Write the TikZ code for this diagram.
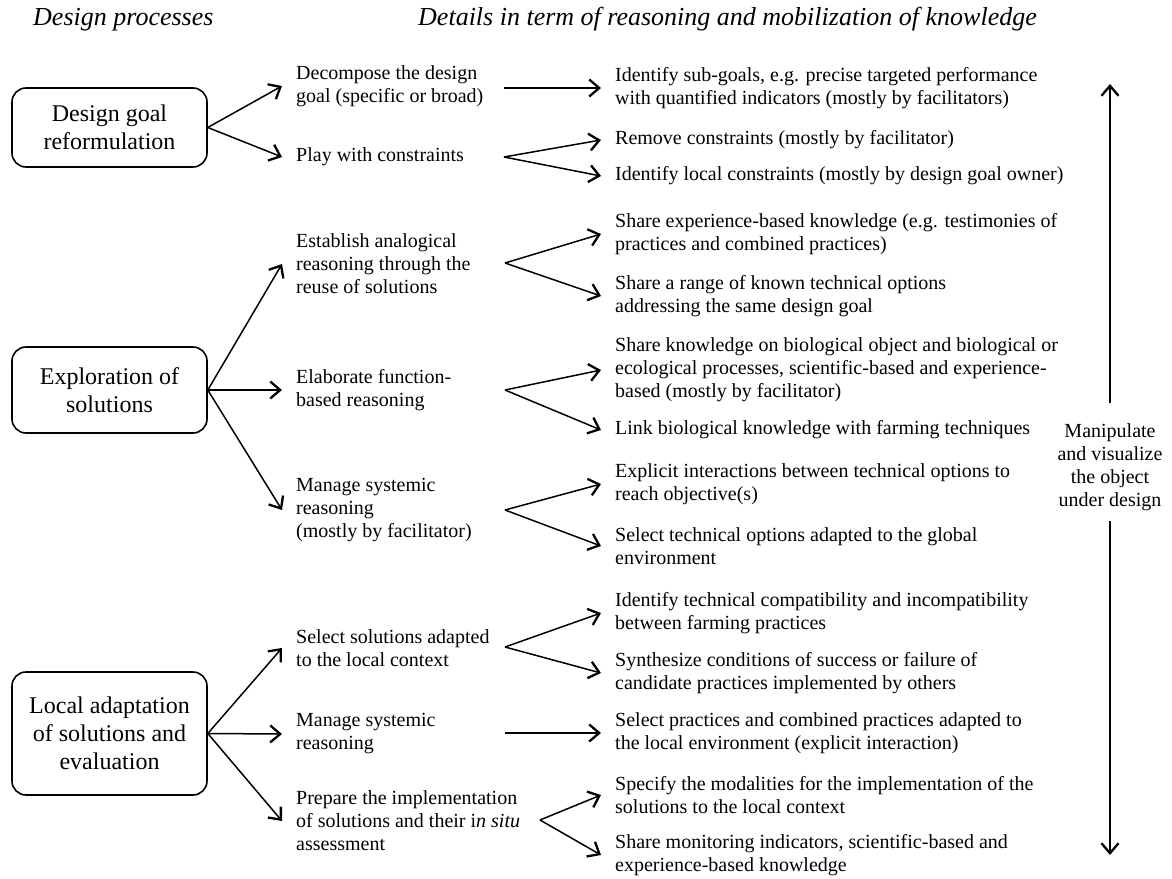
\documentclass[tikz,border=0pt]{standalone}
\usepackage{fontspec}
\setmainfont{Liberation Serif}
\usetikzlibrary{arrows.meta}
\begin{document}
\begin{tikzpicture}[x=1pt,y=-1pt,
  conn/.style={line width=1.5pt,-{Straight Barb[length=10pt,width=17pt,line width=2.3pt]}},
  procbox/.style={draw,line width=1.6pt,rounded corners=14pt,minimum width=195pt,align=center,font=\fontsize{24}{28}\selectfont,inner sep=0pt},
  lvtwo/.style={anchor=west,align=left,inner sep=0pt,font=\fontsize{20}{23}\selectfont},
  lvthree/.style={anchor=west,align=left,inner sep=0pt,font=\fontsize{20}{23}\selectfont},
  heading/.style={anchor=base west,inner sep=0pt,font=\fontsize{26}{30}\selectfont\itshape}]
\useasboundingbox (0,0) rectangle (1172,878);

% headings
\node[heading] (h1) at (33,25) {Design processes};
\node[heading] (h2) at (418,25) {Details in term of reasoning and mobilization of knowledge};

% process boxes
\node[procbox,minimum height=79pt] (b1) at (109.5,127.5) {Design goal\\reformulation};
\node[procbox,minimum height=86pt] (b2) at (109.5,390) {Exploration of\\solutions};
\node[procbox,minimum height=123pt] (b3) at (109.5,733.5) {Local adaptation\\of solutions and\\evaluation};

% level 2
\node[lvtwo] (dec) at (296,86) {Decompose the design\\goal (specific or broad)};
\node[lvtwo] (play) at (296,157) {Play with constraints};
\node[lvtwo] (est) at (296,264) {Establish analogical\\reasoning through the\\reuse of solutions};
\node[lvtwo] (elab) at (296,390) {Elaborate function-\\based reasoning};
\node[lvtwo] (mana) at (296,510) {Manage systemic\\reasoning\\(mostly by facilitator)};
\node[lvtwo] (sel) at (296,648) {Select solutions adapted\\to the local context};
\node[lvtwo] (manb) at (296,734) {Manage systemic\\reasoning};
\node[lvtwo] (prep) at (296,821) {Prepare the implementation\\of solutions and their i\textit{n situ}\\assessment};

% level 3
\node[lvthree] (sub) at (615,88) {Identify sub-goals, e.g. precise targeted performance\\with quantified indicators (mostly by facilitators)};
\node[lvthree] (rem) at (615,140) {Remove constraints (mostly by facilitator)};
\node[lvthree] (loc) at (615,176) {Identify local constraints (mostly by design goal owner)};
\node[lvthree] (sha) at (615,234) {Share experience-based knowledge (e.g. testimonies of\\practices and combined practices)};
\node[lvthree] (shb) at (615,296) {Share a range of known technical options\\addressing the same design goal};
\node[lvthree] (shc) at (615,370) {Share knowledge on biological object and biological or\\ecological processes, scientific-based and experience-\\based (mostly by facilitator)};
\node[lvthree] (link) at (615,430) {Link biological knowledge with farming techniques};
\node[lvthree] (expl) at (615,484) {Explicit interactions between technical options to\\reach objective(s)};
\node[lvthree] (selt) at (615,546) {Select technical options adapted to the global\\environment};
\node[lvthree] (idt) at (615,613) {Identify technical compatibility and incompatibility\\between farming practices};
\node[lvthree] (syn) at (615,673) {Synthesize conditions of success or failure of\\candidate practices implemented by others};
\node[lvthree] (selp) at (615,733) {Select practices and combined practices adapted to\\the local environment (explicit interaction)};
\node[lvthree] (spec) at (615,795) {Specify the modalities for the implementation of the\\solutions to the local context};
\node[lvthree] (shm) at (615,855) {Share monitoring indicators, scientific-based and\\experience-based knowledge};

% right side
\node[align=center,inner xsep=0pt,inner ysep=10pt,font=\fontsize{20}{23}\selectfont] (mv) at (1110,467) {Manipulate\\and visualize\\the object\\under design};
\coordinate (vtop) at (1110,84);
\coordinate (vbot) at (1110,855);
\draw[conn] ([yshift=10pt]mv.north) -- (vtop);
\draw[conn] (mv.south) -- (vbot);

% box -> level 2
\draw[conn] (b1.east) -- ([xshift=-14pt]dec.west);
\draw[conn] (b1.east) -- ([xshift=-14pt]play.west);
\draw[conn] (b2.east) -- ([xshift=-14pt]est.west);
\draw[conn] (b2.east) -- ([xshift=-14pt]elab.west);
\draw[conn] (b2.east) -- ([xshift=-14pt]mana.west);
\draw[conn] (b3.east) -- ([xshift=-14pt]sel.west);
\draw[conn] (b3.east) -- ([xshift=-14pt]manb.west);
\draw[conn] (b3.east) -- ([xshift=-14pt]prep.west);

% level 2 -> level 3
\coordinate (adec) at (504,88);
\coordinate (aplay) at (504,157);
\coordinate (aest) at (505,263);
\coordinate (aelab) at (505,390);
\coordinate (amana) at (505,510);
\coordinate (asel) at (505,647);
\coordinate (amanb) at (505,733);
\coordinate (aprep) at (540,820);
\draw[conn] (adec) -- ([xshift=-14pt]sub.west);
\draw[conn] (aplay) -- ([xshift=-14pt]rem.west);
\draw[conn] (aplay) -- ([xshift=-14pt]loc.west);
\draw[conn] (aest) -- ([xshift=-14pt]sha.west);
\draw[conn] (aest) -- ([xshift=-14pt]shb.west);
\draw[conn] (aelab) -- ([xshift=-14pt]shc.west);
\draw[conn] (aelab) -- ([xshift=-14pt]link.west);
\draw[conn] (amana) -- ([xshift=-14pt]expl.west);
\draw[conn] (amana) -- ([xshift=-14pt]selt.west);
\draw[conn] (asel) -- ([xshift=-14pt]idt.west);
\draw[conn] (asel) -- ([xshift=-14pt]syn.west);
\draw[conn] (amanb) -- ([xshift=-14pt]selp.west);
\draw[conn] (aprep) -- ([xshift=-14pt]spec.west);
\draw[conn] (aprep) -- ([xshift=-14pt]shm.west);
\end{tikzpicture}
\end{document}
